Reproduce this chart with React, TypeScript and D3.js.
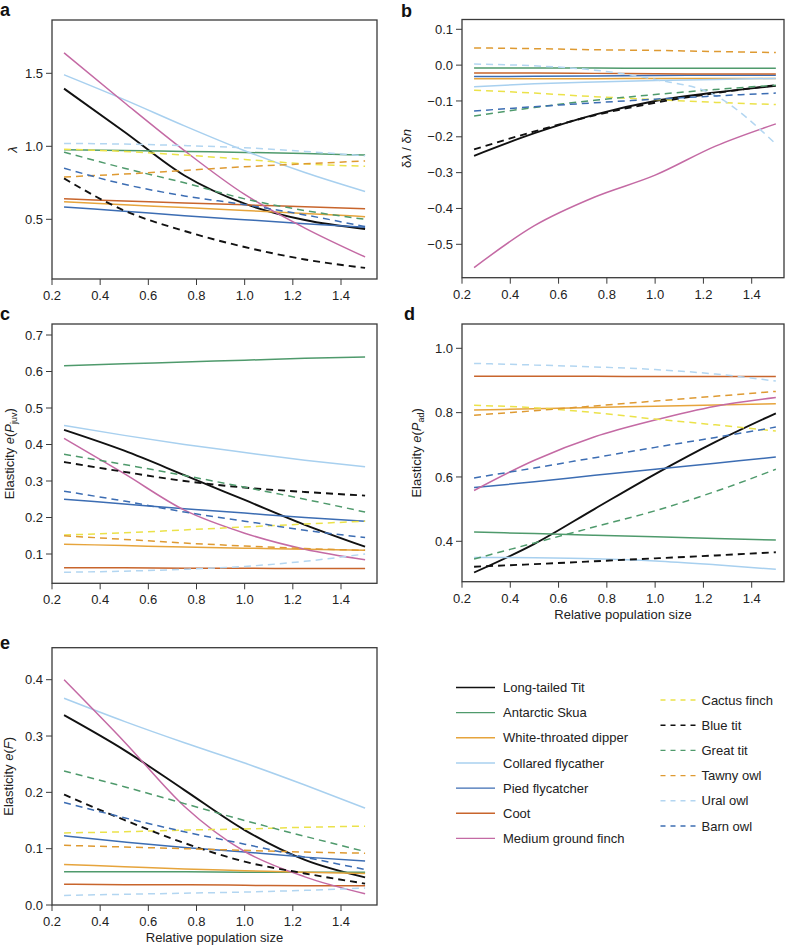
import React from 'react';
import * as d3 from 'd3';

// ---------- data ----------
const popSize = [0.25, 0.5, 0.75, 1.0, 1.25, 1.5];
const xTicks = [0.2, 0.4, 0.6, 0.8, 1.0, 1.2, 1.4];

const speciesNames = [
  'Long-tailed Tit', 'Antarctic Skua', 'White-throated dipper', 'Collared flycather',
  'Pied flycatcher', 'Coot', 'Medium ground finch',
  'Cactus finch', 'Blue tit', 'Great tit', 'Tawny owl', 'Ural owl', 'Barn owl',
];
const speciesColors = [
  '#111111', '#4f9a6c', '#e6a43c', '#a8d0ef', '#3c6db3', '#c8652c', '#c46aa4',
  '#ebe24a', '#111111', '#4f9a6c', '#de9a32', '#b3d6f1', '#3c6db3',
];
const speciesDashed = [false, false, false, false, false, false, false, true, true, true, true, true, true];

// panel a: lambda
const lambdaValues = [
  [1.395, 1.10, 0.80, 0.607, 0.495, 0.434],
  [0.977, 0.972, 0.965, 0.958, 0.95, 0.94],
  [0.62, 0.60, 0.58, 0.56, 0.54, 0.518],
  [1.49, 1.32, 1.14, 0.97, 0.82, 0.69],
  [0.585, 0.555, 0.525, 0.497, 0.47, 0.445],
  [0.64, 0.626, 0.612, 0.599, 0.586, 0.573],
  [1.64, 1.30, 0.97, 0.67, 0.44, 0.242],
  [0.98, 0.965, 0.94, 0.91, 0.88, 0.863],
  [0.78, 0.56, 0.42, 0.31, 0.225, 0.167],
  [0.96, 0.85, 0.75, 0.64, 0.56, 0.50],
  [0.79, 0.81, 0.835, 0.86, 0.88, 0.90],
  [1.02, 1.015, 1.005, 0.99, 0.965, 0.935],
  [0.85, 0.74, 0.66, 0.60, 0.53, 0.45],
];

// panel b: d lambda / d n
const slopeValues = [
  [-0.253, -0.19, -0.138, -0.10, -0.076, -0.058],
  [-0.008, -0.008, -0.008, -0.009, -0.009, -0.009],
  [-0.038, -0.038, -0.038, -0.037, -0.037, -0.037],
  [-0.06, -0.052, -0.047, -0.043, -0.04, -0.037],
  [-0.032, -0.031, -0.03, -0.029, -0.028, -0.028],
  [-0.022, -0.022, -0.023, -0.024, -0.025, -0.025],
  [-0.565, -0.448, -0.368, -0.307, -0.226, -0.164],
  [-0.07, -0.078, -0.088, -0.096, -0.104, -0.11],
  [-0.235, -0.185, -0.14, -0.105, -0.078, -0.056],
  [-0.142, -0.118, -0.098, -0.082, -0.068, -0.056],
  [0.048, 0.046, 0.043, 0.041, 0.038, 0.035],
  [0.003, -0.002, -0.014, -0.04, -0.085, -0.22],
  [-0.128, -0.116, -0.105, -0.095, -0.086, -0.078],
];

// panel c: elasticity of juvenile survival
const juvValues = [
  [0.44, 0.383, 0.316, 0.248, 0.18, 0.12],
  [0.616, 0.621, 0.626, 0.631, 0.636, 0.64],
  [0.127, 0.123, 0.119, 0.116, 0.113, 0.11],
  [0.452, 0.425, 0.40, 0.378, 0.357, 0.339],
  [0.25, 0.237, 0.224, 0.212, 0.20, 0.19],
  [0.062, 0.062, 0.061, 0.061, 0.06, 0.06],
  [0.417, 0.32, 0.22, 0.157, 0.113, 0.084],
  [0.152, 0.158, 0.166, 0.174, 0.182, 0.19],
  [0.352, 0.325, 0.30, 0.282, 0.27, 0.26],
  [0.373, 0.345, 0.315, 0.283, 0.25, 0.215],
  [0.15, 0.14, 0.13, 0.122, 0.115, 0.11],
  [0.05, 0.053, 0.058, 0.066, 0.08, 0.10],
  [0.272, 0.245, 0.215, 0.19, 0.165, 0.145],
];

// panel d: elasticity of adult survival
const adValues = [
  [0.303, 0.392, 0.501, 0.609, 0.709, 0.798],
  [0.429, 0.424, 0.419, 0.414, 0.409, 0.404],
  [0.808, 0.812, 0.816, 0.82, 0.824, 0.828],
  [0.35, 0.349, 0.346, 0.339, 0.327, 0.313],
  [0.567, 0.585, 0.605, 0.624, 0.643, 0.662],
  [0.913, 0.913, 0.913, 0.912, 0.912, 0.912],
  [0.558, 0.652, 0.725, 0.777, 0.82, 0.847],
  [0.823, 0.815, 0.80, 0.78, 0.762, 0.743],
  [0.321, 0.329, 0.338, 0.347, 0.356, 0.366],
  [0.345, 0.395, 0.445, 0.495, 0.555, 0.624],
  [0.792, 0.806, 0.821, 0.836, 0.851, 0.866],
  [0.953, 0.948, 0.942, 0.934, 0.92, 0.898],
  [0.597, 0.628, 0.66, 0.692, 0.723, 0.755],
];

// panel e: elasticity of fecundity
const fecValues = [
  [0.337, 0.275, 0.204, 0.133, 0.08, 0.049],
  [0.059, 0.059, 0.059, 0.058, 0.058, 0.058],
  [0.072, 0.068, 0.064, 0.061, 0.058, 0.056],
  [0.367, 0.326, 0.288, 0.252, 0.213, 0.172],
  [0.123, 0.112, 0.102, 0.094, 0.085, 0.078],
  [0.037, 0.036, 0.036, 0.035, 0.034, 0.034],
  [0.40, 0.29, 0.175, 0.095, 0.05, 0.02],
  [0.128, 0.13, 0.133, 0.135, 0.138, 0.14],
  [0.196, 0.151, 0.11, 0.077, 0.056, 0.038],
  [0.238, 0.21, 0.18, 0.15, 0.122, 0.095],
  [0.106, 0.103, 0.1, 0.097, 0.094, 0.092],
  [0.017, 0.019, 0.021, 0.023, 0.026, 0.03],
  [0.182, 0.155, 0.13, 0.108, 0.085, 0.063],
];

const aTicks = [0.5, 1.0, 1.5];
const bTicks = [-0.5, -0.4, -0.3, -0.2, -0.1, 0.0, 0.1];
const cTicks = [0.1, 0.2, 0.3, 0.4, 0.5, 0.6, 0.7];
const dTicks = [0.4, 0.6, 0.8, 1.0];
const eTicks = [0.0, 0.1, 0.2, 0.3, 0.4];

// ---------- layout ----------
const FONT = '"Liberation Sans", Arial, Helvetica, sans-serif';
const LEFT = { x0: 52, x1: 377, tick02: 52, tick14: 341 };
const RIGHT = { x0: 462, x1: 784, tick02: 462, tick14: 751.7 };

type PanelDef = {
  letter: string;
  letterX: number;
  letterY: number;
  col: typeof LEFT;
  y0: number;
  y1: number;
  yRef: [number, number, number, number];
  ticks: number[];
  values: number[][];
  titleX: number;
  title: React.ReactNode;
  xLabel: boolean;
};

const panels: PanelDef[] = [
  {
    letter: 'a', letterX: 0, letterY: 16, col: LEFT, y0: 20, y1: 279,
    yRef: [1.5, 73.3, 0.5, 219.3], ticks: aTicks, values: lambdaValues,
    titleX: 12, title: <tspan fontStyle="italic">λ</tspan>, xLabel: false,
  },
  {
    letter: 'b', letterX: 401, letterY: 17, col: RIGHT, y0: 19.5, y1: 277.7,
    yRef: [0.1, 29.3, -0.5, 244.3], ticks: bTicks, values: slopeValues,
    titleX: 406,
    title: (<>
      <tspan>δ</tspan><tspan fontStyle="italic">λ</tspan><tspan> / δ</tspan><tspan fontStyle="italic">n</tspan>
    </>),
    xLabel: false,
  },
  {
    letter: 'c', letterX: 0, letterY: 320, col: LEFT, y0: 324, y1: 583.3,
    yRef: [0.7, 335, 0.1, 554], ticks: cTicks, values: juvValues,
    titleX: 9,
    title: (<>
      <tspan>Elasticity </tspan><tspan fontStyle="italic">e</tspan><tspan>(</tspan>
      <tspan fontStyle="italic">P</tspan><tspan fontSize="9" dy="3">juv</tspan><tspan dy="-3">)</tspan>
    </>),
    xLabel: false,
  },
  {
    letter: 'd', letterX: 404, letterY: 320, col: RIGHT, y0: 324, y1: 581.7,
    yRef: [1.0, 348.3, 0.4, 541.3], ticks: dTicks, values: adValues,
    titleX: 416,
    title: (<>
      <tspan>Elasticity </tspan><tspan fontStyle="italic">e</tspan><tspan>(</tspan>
      <tspan fontStyle="italic">P</tspan><tspan fontSize="9" dy="3">ad</tspan><tspan dy="-3">)</tspan>
    </>),
    xLabel: true,
  },
  {
    letter: 'e', letterX: 0, letterY: 649, col: LEFT, y0: 647.7, y1: 905,
    yRef: [0.4, 679.7, 0.0, 905], ticks: eTicks, values: fecValues,
    titleX: 8,
    title: (<>
      <tspan>Elasticity </tspan><tspan fontStyle="italic">e</tspan><tspan>(</tspan>
      <tspan fontStyle="italic">F</tspan><tspan>)</tspan>
    </>),
    xLabel: true,
  },
];

const fmt = d3.format('.1f');

function Panel({ p }: { p: PanelDef }) {
  const x = d3.scaleLinear().domain([0.2, 1.4]).range([p.col.tick02, p.col.tick14]);
  const y = d3.scaleLinear().domain([p.yRef[0], p.yRef[2]]).range([p.yRef[1], p.yRef[3]]);
  const line = d3.line<number>()
    .x((_, i) => x(popSize[i]))
    .y((v) => y(v))
    .curve(d3.curveMonotoneX);
  const axisCol = '#3a3a3a';
  const cy = (p.y0 + p.y1) / 2;
  return (
    <g>
      <text x={p.letterX} y={p.letterY} fontSize={18} fontWeight="bold" fontFamily={FONT} fill="#111">{p.letter}</text>
      {p.values.map((vals, i) => (
        <path key={i} d={line(vals) || ''} fill="none" stroke={speciesColors[i]}
          strokeWidth={i === 0 || i === 8 ? 1.9 : 1.5}
          strokeDasharray={speciesDashed[i] ? '7,5' : undefined} />
      ))}
      <rect x={p.col.x0} y={p.y0} width={p.col.x1 - p.col.x0} height={p.y1 - p.y0}
        fill="none" stroke={axisCol} strokeWidth={1.3} />
      {xTicks.map((t) => (
        <g key={t}>
          <line x1={x(t)} x2={x(t)} y1={p.y1} y2={p.y1 + 6} stroke={axisCol} strokeWidth={1} />
          <text x={x(t)} y={p.y1 + 21} textAnchor="middle" fontSize={13} fontFamily={FONT} fill="#222">{fmt(t)}</text>
        </g>
      ))}
      {p.ticks.map((t) => (
        <g key={t}>
          <line x1={p.col.x0 - 6} x2={p.col.x0} y1={y(t)} y2={y(t)} stroke={axisCol} strokeWidth={1} />
          <text x={p.col.x0 - 9} y={y(t)} dy="0.35em" textAnchor="end" fontSize={13} fontFamily={FONT} fill="#222">{fmt(t)}</text>
        </g>
      ))}
      <text transform={`translate(${p.titleX},${cy}) rotate(-90)`} textAnchor="middle" dy="0.35em"
        fontSize={13} fontFamily={FONT} fill="#222">{p.title}</text>
      {p.xLabel && (
        <text x={(p.col.x0 + p.col.x1) / 2} y={p.y1 + 37} textAnchor="middle" fontSize={13} fontFamily={FONT} fill="#222">
          Relative population size
        </text>
      )}
    </g>
  );
}

function Legend() {
  const leftIdx = [0, 1, 2, 3, 4, 5, 6];
  const rightIdx = [7, 8, 9, 10, 11, 12];
  return (
    <g fontFamily={FONT} fontSize={13} fill="#222">
      {leftIdx.map((s, k) => {
        const yy = 687.5 + k * 25.15;
        return (
          <g key={s}>
            <line x1={456} x2={495} y1={yy} y2={yy} stroke={speciesColors[s]} strokeWidth={1.4} />
            <text x={503} y={yy} dy="0.35em">{speciesNames[s]}</text>
          </g>
        );
      })}
      {rightIdx.map((s, k) => {
        const yy = 700 + k * 25.2;
        return (
          <g key={s}>
            <line x1={660.5} x2={696} y1={yy} y2={yy} stroke={speciesColors[s]} strokeWidth={1.4} strokeDasharray="5,5" />
            <text x={701.5} y={yy} dy="0.35em">{speciesNames[s]}</text>
          </g>
        );
      })}
    </g>
  );
}

export default function App() {
  return (
    <svg width={788} height={948} style={{ position: 'absolute', left: 0, top: 0, background: '#fff' }}>
      <rect x={0} y={0} width={788} height={948} fill="#fff" />
      {panels.map((p) => <Panel key={p.letter} p={p} />)}
      <Legend />
    </svg>
  );
}
